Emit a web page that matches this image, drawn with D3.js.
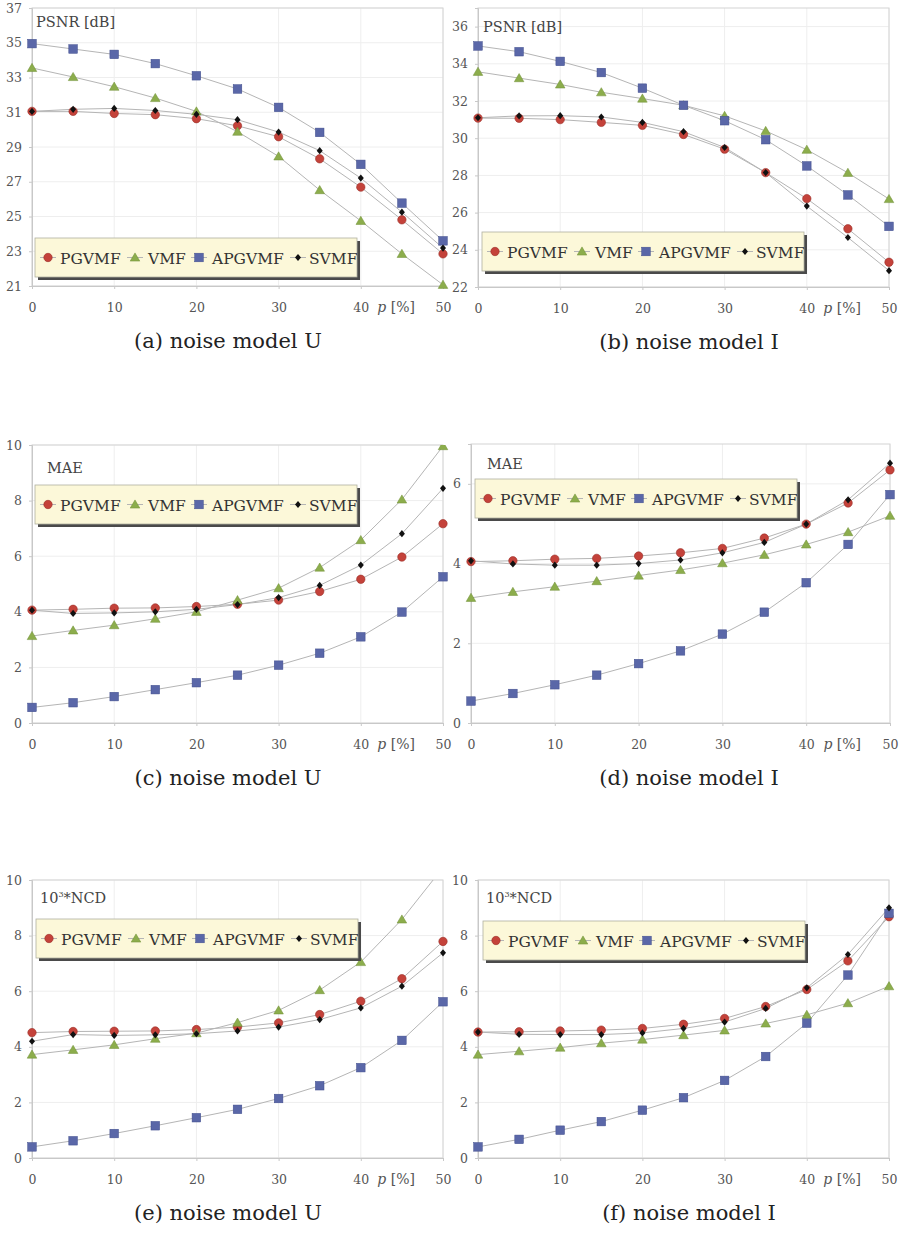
<!DOCTYPE html>
<html>
<head>
<meta charset="utf-8">
<script src="https://cdn.jsdelivr.net/npm/d3@7"></script>
<style>
  body { margin: 0; background: #fff; }
  svg text { font-family: "DejaVu Serif", "Liberation Serif", serif; }
  .grid line { stroke: #eeeeee; stroke-width: 1; }
  .caption { fill: #222; font-size: 21px; }
</style>
</head>
<body>
<div id="chart"></div>
<script>
// noise percentage
var pValues = [0, 5, 10, 15, 20, 25, 30, 35, 40, 45, 50];
var seriesNames = ["PGVMF", "VMF", "APGVMF", "SVMF"];

// PSNR, noise model U
var psnrU_PGVMF  = [31.05, 31.05, 30.93, 30.86, 30.63, 30.22, 29.59, 28.32, 26.69, 24.81, 22.85];
var psnrU_VMF    = [33.55, 33.03, 32.47, 31.82, 31.05, 29.88, 28.46, 26.52, 24.75, 22.85, 21.07];
var psnrU_APGVMF = [34.95, 34.64, 34.33, 33.80, 33.10, 32.34, 31.28, 29.84, 28.00, 25.77, 23.60];
var psnrU_SVMF   = [31.05, 31.17, 31.22, 31.10, 30.88, 30.57, 29.86, 28.79, 27.21, 25.25, 23.18];

// PSNR, noise model I
var psnrI_PGVMF  = [31.08, 31.07, 31.00, 30.85, 30.69, 30.20, 29.41, 28.15, 26.75, 25.13, 23.33];
var psnrI_VMF    = [33.57, 33.23, 32.89, 32.47, 32.13, 31.77, 31.20, 30.39, 29.38, 28.14, 26.73];
var psnrI_APGVMF = [34.96, 34.65, 34.13, 33.53, 32.69, 31.77, 30.94, 29.92, 28.51, 26.95, 25.26];
var psnrI_SVMF   = [31.10, 31.20, 31.21, 31.14, 30.85, 30.35, 29.50, 28.15, 26.35, 24.66, 22.88];

// MAE, noise model U
var maeU_PGVMF  = [4.06, 4.09, 4.13, 4.14, 4.19, 4.27, 4.42, 4.73, 5.17, 5.97, 7.17];
var maeU_VMF    = [3.13, 3.33, 3.52, 3.75, 4.00, 4.42, 4.85, 5.59, 6.58, 8.04, 9.96];
var maeU_APGVMF = [0.56, 0.73, 0.95, 1.20, 1.45, 1.72, 2.08, 2.51, 3.10, 3.99, 5.26];
var maeU_SVMF   = [4.06, 3.94, 3.96, 4.00, 4.09, 4.26, 4.51, 4.95, 5.68, 6.81, 8.44];

// MAE, noise model I
var maeI_PGVMF  = [4.05, 4.07, 4.11, 4.13, 4.19, 4.27, 4.38, 4.64, 4.99, 5.52, 6.35];
var maeI_VMF    = [3.14, 3.29, 3.42, 3.56, 3.70, 3.84, 4.01, 4.22, 4.48, 4.79, 5.20];
var maeI_APGVMF = [0.55, 0.74, 0.96, 1.20, 1.49, 1.81, 2.23, 2.78, 3.52, 4.48, 5.73];
var maeI_SVMF   = [4.07, 3.99, 3.96, 3.96, 4.00, 4.09, 4.27, 4.53, 4.99, 5.60, 6.52];

// 10^3 * NCD, noise model U
var ncdU_PGVMF  = [4.51, 4.55, 4.56, 4.57, 4.62, 4.71, 4.86, 5.16, 5.64, 6.45, 7.79];
var ncdU_VMF    = [3.72, 3.89, 4.07, 4.29, 4.49, 4.87, 5.31, 6.04, 7.05, 8.58, 10.45];
var ncdU_APGVMF = [0.40, 0.62, 0.88, 1.16, 1.45, 1.75, 2.14, 2.60, 3.25, 4.23, 5.62];
var ncdU_SVMF   = [4.20, 4.44, 4.41, 4.43, 4.47, 4.57, 4.71, 4.98, 5.40, 6.18, 7.38];

// 10^3 * NCD, noise model I
var ncdI_PGVMF  = [4.53, 4.54, 4.57, 4.60, 4.66, 4.81, 5.02, 5.45, 6.06, 7.09, 8.68];
var ncdI_VMF    = [3.72, 3.84, 3.97, 4.13, 4.26, 4.42, 4.59, 4.84, 5.15, 5.57, 6.18];
var ncdI_APGVMF = [0.40, 0.67, 1.00, 1.31, 1.72, 2.17, 2.79, 3.65, 4.85, 6.58, 8.80];
var ncdI_SVMF   = [4.53, 4.45, 4.44, 4.44, 4.50, 4.66, 4.89, 5.38, 6.12, 7.32, 9.00];

var xTicks = [0, 10, 20, 30, 40, 50];

var colors = { PGVMF: "#c4423a", VMF: "#8cad4c", APGVMF: "#5a67a8", SVMF: "#111111" };
var strokes = { PGVMF: "#9a2e26", VMF: "#6f8f35", APGVMF: "#3f4c8c", SVMF: "#000000" };

var panels = [
  { id: "a", box: [32, 443, 8, 286], domain: [21, 37], yTicks: [21, 23, 25, 27, 29, 31, 33, 35, 37],
    label: "PSNR [dB]", labelPos: [36, 27], legend: [35, 238], caption: "(a) noise model U", capX: 228,
    series: [psnrU_PGVMF, psnrU_VMF, psnrU_APGVMF, psnrU_SVMF] },
  { id: "b", box: [478, 889, 8, 287], domain: [22, 37], yTicks: [22, 24, 26, 28, 30, 32, 34, 36],
    label: "PSNR [dB]", labelPos: [483, 32], legend: [482, 232], caption: "(b) noise model I", capX: 689,
    series: [psnrI_PGVMF, psnrI_VMF, psnrI_APGVMF, psnrI_SVMF] },
  { id: "c", box: [32, 443, 445, 723], domain: [0, 10], yTicks: [0, 2, 4, 6, 8, 10],
    label: "MAE", labelPos: [47, 473], legend: [35, 485], caption: "(c) noise model U", capX: 228,
    series: [maeU_PGVMF, maeU_VMF, maeU_APGVMF, maeU_SVMF] },
  { id: "d", box: [471, 890, 444, 723], domain: [0, 7], yTicks: [0, 2, 4, 6],
    label: "MAE", labelPos: [487, 469], legend: [475, 479], caption: "(d) noise model I", capX: 689,
    series: [maeI_PGVMF, maeI_VMF, maeI_APGVMF, maeI_SVMF] },
  { id: "e", box: [32, 443, 880, 1158], domain: [0, 10], yTicks: [0, 2, 4, 6, 8, 10],
    label: "NCD", labelPos: [40, 903], legend: [36, 919], caption: "(e) noise model U", capX: 228,
    series: [ncdU_PGVMF, ncdU_VMF, ncdU_APGVMF, ncdU_SVMF] },
  { id: "f", box: [478, 889, 880, 1158], domain: [0, 10], yTicks: [0, 2, 4, 6, 8, 10],
    label: "NCD", labelPos: [486, 903], legend: [483, 921], caption: "(f) noise model I", capX: 689,
    series: [ncdI_PGVMF, ncdI_VMF, ncdI_APGVMF, ncdI_SVMF] }
];

var svg = d3.select("#chart").append("svg")
  .attr("width", 905)
  .attr("height", 1233);

var defs = svg.append("defs");

// draw one marker of the given series at (x, y)
function drawMarker(g, name, x, y) {
  if (name == "PGVMF") {
    g.append("circle").attr("cx", x).attr("cy", y).attr("r", 4.2)
      .attr("fill", colors[name]).attr("stroke", strokes[name]).attr("stroke-width", 0.6);
  } else if (name == "VMF") {
    g.append("path").attr("transform", "translate(" + x + "," + y + ")")
      .attr("d", "M0,-4.6L4.8,3.6L-4.8,3.6Z")
      .attr("fill", colors[name]).attr("stroke", strokes[name]).attr("stroke-width", 0.5);
  } else if (name == "APGVMF") {
    g.append("rect").attr("x", x - 4.3).attr("y", y - 4.3).attr("width", 8.6).attr("height", 8.6)
      .attr("fill", colors[name]).attr("stroke", strokes[name]).attr("stroke-width", 0.5);
  } else {
    g.append("path").attr("transform", "translate(" + x + "," + y + ")")
      .attr("d", "M0,-3.6L3,0L0,3.6L-3,0Z")
      .attr("fill", colors[name]);
  }
}

panels.forEach(function(p) {
  var x = d3.scaleLinear().domain([0, 50]).range([p.box[0], p.box[1]]);
  var y = d3.scaleLinear().domain(p.domain).range([p.box[3], p.box[2]]);
  var g = svg.append("g").attr("class", "panel-" + p.id);

  // grid
  var grid = g.append("g").attr("class", "grid");
  grid.selectAll(".gx").data(xTicks).enter().append("line")
    .attr("x1", function(d) { return x(d); }).attr("x2", function(d) { return x(d); })
    .attr("y1", p.box[2]).attr("y2", p.box[3]);
  grid.selectAll(".gy").data(p.yTicks).enter().append("line")
    .attr("x1", p.box[0]).attr("x2", p.box[1])
    .attr("y1", function(d) { return y(d); }).attr("y2", function(d) { return y(d); });

  // frame
  g.append("rect")
    .attr("x", p.box[0]).attr("y", p.box[2])
    .attr("width", p.box[1] - p.box[0]).attr("height", p.box[3] - p.box[2])
    .attr("fill", "none").attr("stroke", "#d4d4d4").attr("stroke-width", 1);

  // axes
  var xAxis = g.append("g")
    .attr("transform", "translate(0," + p.box[3] + ")")
    .call(d3.axisBottom(x).tickValues(xTicks).tickFormat(d3.format("d")).tickSize(3).tickPadding(14));
  var yAxis = g.append("g")
    .attr("transform", "translate(" + p.box[0] + ",0)")
    .call(d3.axisLeft(y).tickValues(p.yTicks).tickFormat(d3.format("d")).tickSize(3).tickPadding(7));
  [xAxis, yAxis].forEach(function(a) {
    a.attr("font-family", null).attr("font-size", null);
    a.select(".domain").attr("stroke", "#c8c8c8");
    a.selectAll(".tick line").attr("stroke", "#c8c8c8");
    a.selectAll(".tick text").style("font-size", "12.5px").attr("fill", "#555");
  });

  // x axis label
  g.append("text")
    .attr("x", x(44.3)).attr("y", p.box[3] + 26)
    .attr("text-anchor", "middle")
    .style("font-size", "14px").attr("fill", "#555")
    .html('<tspan font-style="italic">p</tspan> [%]');

  // series
  defs.append("clipPath").attr("id", "clip-" + p.id)
    .append("rect")
    .attr("x", p.box[0] - 6).attr("y", p.box[2])
    .attr("width", p.box[1] - p.box[0] + 12).attr("height", p.box[3] - p.box[2] + 6);
  var plot = g.append("g").attr("clip-path", "url(#clip-" + p.id + ")");
  var line = d3.line()
    .x(function(d, i) { return x(pValues[i]); })
    .y(function(d) { return y(d); });
  p.series.forEach(function(vals) {
    plot.append("path").datum(vals)
      .attr("d", line)
      .attr("fill", "none").attr("stroke", "#b5b5b5").attr("stroke-width", 1);
  });
  p.series.forEach(function(vals, si) {
    vals.forEach(function(v, i) {
      if (v <= p.domain[1]) drawMarker(plot, seriesNames[si], x(pValues[i]), y(v));
    });
  });

  // label inside plot
  var lab = g.append("text")
    .attr("x", p.labelPos[0]).attr("y", p.labelPos[1])
    .style("font-size", "14.5px").attr("fill", "#444");
  if (p.label == "NCD") {
    lab.append("tspan").text("10");
    lab.append("tspan").attr("dy", -6).style("font-size", "8px").text("3");
    lab.append("tspan").attr("dy", 6).text("*NCD");
  } else {
    lab.text(p.label);
  }

  // legend
  var lx = p.legend[0], ly = p.legend[1], lw = 322, lh = 39;
  var lg = g.append("g");
  lg.append("rect").attr("x", lx + 3).attr("y", ly + 3).attr("width", lw).attr("height", lh)
    .attr("fill", "#4a4a4a");
  lg.append("rect").attr("x", lx).attr("y", ly).attr("width", lw).attr("height", lh)
    .attr("fill", "#fcf8d9").attr("stroke", "#b0b0a0").attr("stroke-width", 0.8);
  var markerOff = [13, 100, 164, 263];
  var textOff = [25, 113, 177, 274];
  seriesNames.forEach(function(name, i) {
    var mx = lx + markerOff[i], my = ly + lh / 2;
    lg.append("line").attr("x1", mx - 8).attr("x2", mx + 8).attr("y1", my).attr("y2", my)
      .attr("stroke", "#b5b5b5").attr("stroke-width", 1);
    drawMarker(lg, name, mx, my);
    lg.append("text").attr("x", lx + textOff[i]).attr("y", my + 6)
      .style("font-size", "15.5px").attr("fill", "#333").text(name);
  });

  // caption
  svg.append("text").attr("class", "caption")
    .attr("x", p.capX).attr("y", p.box[3] + 62)
    .attr("text-anchor", "middle")
    .text(p.caption);
});
</script>
</body>
</html>
